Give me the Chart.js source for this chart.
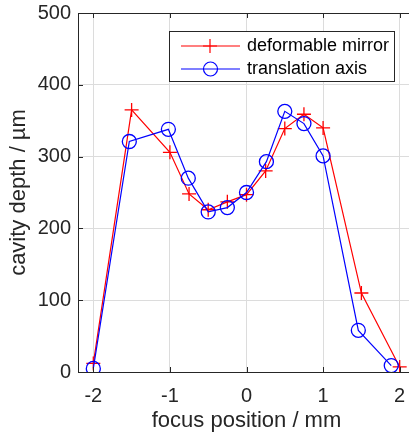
<!DOCTYPE html>
<html>
<head>
<meta charset="utf-8">
<script src="https://cdn.jsdelivr.net/npm/chart.js@4.4.1/dist/chart.umd.min.js"></script>
<style>
  html, body { margin: 0; padding: 0; background: #fff; overflow: hidden; }
  #wrap { width: 409px; height: 433px; overflow: hidden; }
</style>
</head>
<body>
<div id="wrap"><canvas id="myChart" width="415" height="433"></canvas></div>
<script>
const mirrorX = [-2, -1.5, -1, -0.75, -0.5, -0.25, 0, 0.25, 0.5, 0.75, 1, 1.5, 2];
const mirrorY = [12, 365, 306, 248, 226, 237, 247, 280, 339, 359, 340, 110, 7];

const axisX = [-2, -1.53, -1.02, -0.76, -0.5, -0.25, 0, 0.26, 0.5, 0.75, 1, 1.46, 1.89];
const axisY = [5, 321, 338, 270, 223, 229, 250, 293, 363, 346, 301, 58, 9];

const xTicks = [-2, -1, 0, 1, 2];
const yTicks = [0, 100, 200, 300, 400, 500];

const seriesNames = ['deformable mirror', 'translation axis'];

const font = "'Liberation Sans', Arial, sans-serif";
const ink = '#262626';

const pts = (xs, ys) => xs.map((x, i) => ({ x: x, y: ys[i] }));

// matlab style box: top border, inward ticks, legend with frame
const boxPlugin = {
  id: 'box',
  afterDraw(chart) {
    const ctx = chart.ctx;
    const a = chart.chartArea;
    const sx = chart.scales.x, sy = chart.scales.y;
    ctx.save();
    ctx.strokeStyle = ink;
    ctx.lineWidth = 1;
    ctx.beginPath();
    ctx.moveTo(a.left, a.top + 0.5);
    ctx.lineTo(a.right, a.top + 0.5);
    xTicks.forEach(v => {
      const p = Math.round(sx.getPixelForValue(v)) + 0.5;
      ctx.moveTo(p, a.bottom); ctx.lineTo(p, a.bottom - 5);
      ctx.moveTo(p, a.top); ctx.lineTo(p, a.top + 5);
    });
    yTicks.forEach(v => {
      const p = Math.round(sy.getPixelForValue(v)) + 0.5;
      ctx.moveTo(a.left, p); ctx.lineTo(a.left + 5, p);
    });
    ctx.stroke();

    // legend
    const lx = 169.5, ly = 31.5, lw = 225, lh = 50;
    ctx.fillStyle = '#fff';
    ctx.fillRect(lx, ly, lw, lh);
    ctx.strokeStyle = ink;
    ctx.strokeRect(lx, ly, lw, lh);
    const rows = [46, 69];
    const colors = ['#ff0000', '#0000ff'];
    rows.forEach((ry, i) => {
      ctx.strokeStyle = colors[i];
      ctx.lineWidth = 1.2;
      ctx.beginPath();
      ctx.moveTo(181, ry); ctx.lineTo(240, ry);
      ctx.stroke();
      if (i === 0) {
        ctx.beginPath();
        ctx.moveTo(203, ry); ctx.lineTo(217, ry);
        ctx.moveTo(210, ry - 7); ctx.lineTo(210, ry + 7);
        ctx.stroke();
      } else {
        ctx.beginPath();
        ctx.arc(210.5, ry, 7, 0, Math.PI * 2);
        ctx.stroke();
      }
      ctx.fillStyle = '#000';
      ctx.font = '18px ' + font;
      ctx.textBaseline = 'middle';
      ctx.fillText(seriesNames[i], 247, ry);
    });
    ctx.restore();
  }
};

const data = {
  datasets: [{
    label: seriesNames[0],
    data: pts(mirrorX, mirrorY),
    borderColor: '#ff0000',
    backgroundColor: 'rgba(0,0,0,0)',
    borderWidth: 1.2,
    pointStyle: 'cross',
    pointRadius: 7,
    pointBorderWidth: 1.3,
    showLine: true,
    order: 1
  }, {
    label: seriesNames[1],
    data: pts(axisX, axisY),
    borderColor: '#0000ff',
    backgroundColor: 'rgba(0,0,0,0)',
    borderWidth: 1.2,
    pointStyle: 'circle',
    pointRadius: 7,
    pointBorderWidth: 1.3,
    showLine: true,
    order: 0
  }]
};

const config = {
  type: 'scatter',
  data: data,
  options: {
    responsive: false,
    animation: false,
    layout: { autoPadding: false, padding: { top: 13, right: 0, left: 0, bottom: 0 } },
    plugins: {
      legend: { display: false },
      tooltip: { enabled: false }
    },
    scales: {
      x: {
        type: 'linear',
        min: -2.2,
        max: 2.2,
        afterBuildTicks: s => { s.ticks = xTicks.map(v => ({ value: v })); },
        afterFit: s => { s.height = 61; s.paddingLeft = 0; s.paddingRight = 0; },
        grid: { color: '#dcdcdc', drawTicks: false },
        border: { color: ink, width: 1 },
        ticks: { color: ink, padding: 12, font: { family: font, size: 20 } },
        title: {
          display: true,
          text: 'focus position / mm',
          color: ink,
          padding: { top: 0, bottom: 0 },
          font: { family: font, size: 22, lineHeight: 1.1 }
        }
      },
      y: {
        type: 'linear',
        min: 0,
        max: 500,
        afterBuildTicks: s => { s.ticks = yTicks.map(v => ({ value: v })); },
        afterFit: s => { s.width = 78; s.paddingTop = 0; s.paddingBottom = 0; },
        grid: { color: '#dcdcdc', drawTicks: false },
        border: { color: ink, width: 1 },
        ticks: { color: ink, padding: 7, font: { family: font, size: 20 } },
        title: {
          display: true,
          text: 'cavity depth / µm',
          color: ink,
          padding: { top: 6, bottom: 2 },
          font: { family: font, size: 22 }
        }
      }
    }
  },
  plugins: [boxPlugin]
};

const myChart = new Chart(document.getElementById('myChart'), config);
</script>
</body>
</html>
